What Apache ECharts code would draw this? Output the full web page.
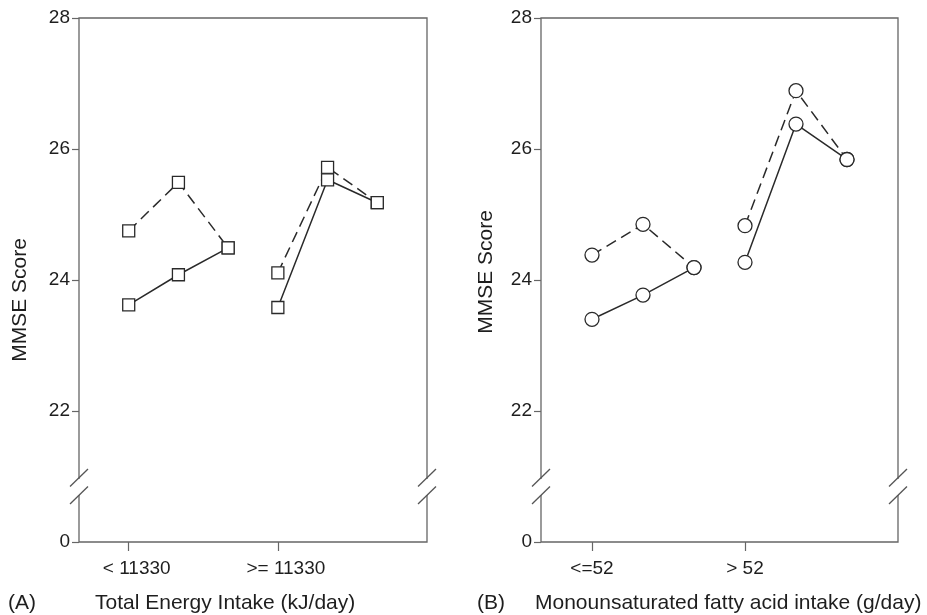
<!DOCTYPE html>
<html><head><meta charset="utf-8">
<script src="https://cdn.jsdelivr.net/npm/echarts@6/dist/echarts.min.js"></script>
<style>html,body{margin:0;padding:0;background:#fff}#c{width:927px;height:615px}</style>
</head><body><div id="c"></div>
<script>
// ---- data ----
const xPositions = [1, 2, 3, 4, 5, 6];
const energyCategories = ['< 11330', '>= 11330'];
const mufaCategories = ['<=52', '> 52'];
const energyDashed = [24.75, 25.49, 24.49, 24.11, 25.72, 25.18];
const energySolid  = [23.62, 24.08, 24.49, 23.58, 25.53, 25.18];
const mufaDashed   = [24.38, 24.85, 24.19, 24.83, 26.89, 25.84];
const mufaSolid    = [23.40, 23.77, 24.19, 24.27, 26.38, 25.84];
const yTicks = [20, 22, 24, 26, 28];        // 20 is shown as "0" (broken axis)
const yTickLabels = ['0', '22', '24', '26', '28'];
const catTickPositions = [1, 4];
const breakValue = 20.84;

const FONT = 'Liberation Sans, Arial, sans-serif';
const TXT = '#1e1e1e';
const AX = '#666';
const LINE = '#2a2a2a';

function toData(vals) {
  const out = [];
  vals.forEach((v, i) => {
    out.push([xPositions[i], v]);
    if (i === 2) out.push([3.5, '-']);
  });
  return out;
}

const chart = echarts.init(document.getElementById('c'), null, {renderer: 'canvas'});

function xAxisCfg(gi, cats, shift) {
  return {
    gridIndex: gi, type: 'value', min: 0, max: 7,
    axisLine: {show: false},
    splitLine: {show: false},
    axisTick: {show: true, length: 9, customValues: catTickPositions, lineStyle: {color: AX, width: 1.2}},
    axisLabel: {
      customValues: catTickPositions, margin: 17, fontSize: 19, color: TXT, fontFamily: FONT,
      padding: [0, 0, 0, shift],
      formatter: v => cats[catTickPositions.indexOf(v)]
    }
  };
}
function yAxisCfg(gi) {
  return {
    gridIndex: gi, type: 'value', min: 20, max: 28, interval: 2,
    axisLine: {show: false},
    splitLine: {show: false},
    axisTick: {show: true, length: 7, lineStyle: {color: AX, width: 1.2}},
    axisLabel: {
      margin: 9, fontSize: 19, color: TXT, fontFamily: FONT,
      formatter: v => yTickLabels[yTicks.indexOf(v)]
    }
  };
}
function series(gi, vals, dashed, symbol, size) {
  return {
    type: 'line', xAxisIndex: gi, yAxisIndex: gi,
    data: toData(vals), connectNulls: false,
    symbol: symbol, symbolSize: size, showSymbol: true,
    lineStyle: {color: LINE, width: 1.5, type: dashed ? [11, 6] : 'solid'},
    itemStyle: {color: '#fff', borderColor: LINE, borderWidth: 1.3},
    emphasis: {disabled: true}, animation: false, z: 3
  };
}

const option = {
  animation: false,
  backgroundColor: '#fff',
  grid: [
    {left: 79, right: 500, top: 18, bottom: 73, show: true, borderColor: AX, borderWidth: 1.3},
    {left: 541, right: 29, top: 18, bottom: 73, show: true, borderColor: AX, borderWidth: 1.3}
  ],
  xAxis: [xAxisCfg(0, energyCategories, 16), xAxisCfg(1, mufaCategories, 0)],
  yAxis: [yAxisCfg(0), yAxisCfg(1)],
  series: [
    series(0, energyDashed, true, 'rect', 12),
    series(0, energySolid, false, 'rect', 12),
    series(1, mufaDashed, true, 'circle', 14),
    series(1, mufaSolid, false, 'circle', 14)
  ]
};
chart.setOption(option);

// decorations: axis titles, panel labels, axis-break marks
const g = [];
function text(x, y, str) {
  g.push({
    type: 'text', x: x, y: y,
    style: {text: str, fontSize: 21, fontFamily: FONT, fill: TXT, textAlign: 'left', textVerticalAlign: 'middle'},
    z: 10
  });
}
text(8, 603, '(A)');
text(95, 603, 'Total Energy Intake (kJ/day)');
text(477, 603, '(B)');
text(535, 603, 'Monounsaturated fatty acid intake (g/day)');
g.push({type: 'text', x: 20, y: 300, rotation: Math.PI / 2,
  style: {text: 'MMSE Score', fontSize: 21, fontFamily: FONT, fill: TXT, textAlign: 'center', textVerticalAlign: 'middle'}, z: 10});
g.push({type: 'text', x: 486, y: 272, rotation: Math.PI / 2,
  style: {text: 'MMSE Score', fontSize: 21, fontFamily: FONT, fill: TXT, textAlign: 'center', textVerticalAlign: 'middle'}, z: 10});

[0, 1].forEach(gi => {
  [0, 7].forEach(xv => {
    const p = chart.convertToPixel({xAxisIndex: gi, yAxisIndex: gi}, [xv, breakValue]);
    const cx = p[0], cy = p[1];
    g.push({type: 'rect', shape: {x: cx - 3, y: cy - 8, width: 6, height: 16}, style: {fill: '#fff'}, z: 20});
    g.push({type: 'line', shape: {x1: cx - 9, y1: cy - 0.5, x2: cx + 9, y2: cy - 18}, style: {stroke: '#555', lineWidth: 1.3}, z: 21});
    g.push({type: 'line', shape: {x1: cx - 9, y1: cy + 17, x2: cx + 9, y2: cy - 0.5}, style: {stroke: '#555', lineWidth: 1.3}, z: 21});
  });
});
chart.setOption({graphic: g});
</script>
</body></html>
